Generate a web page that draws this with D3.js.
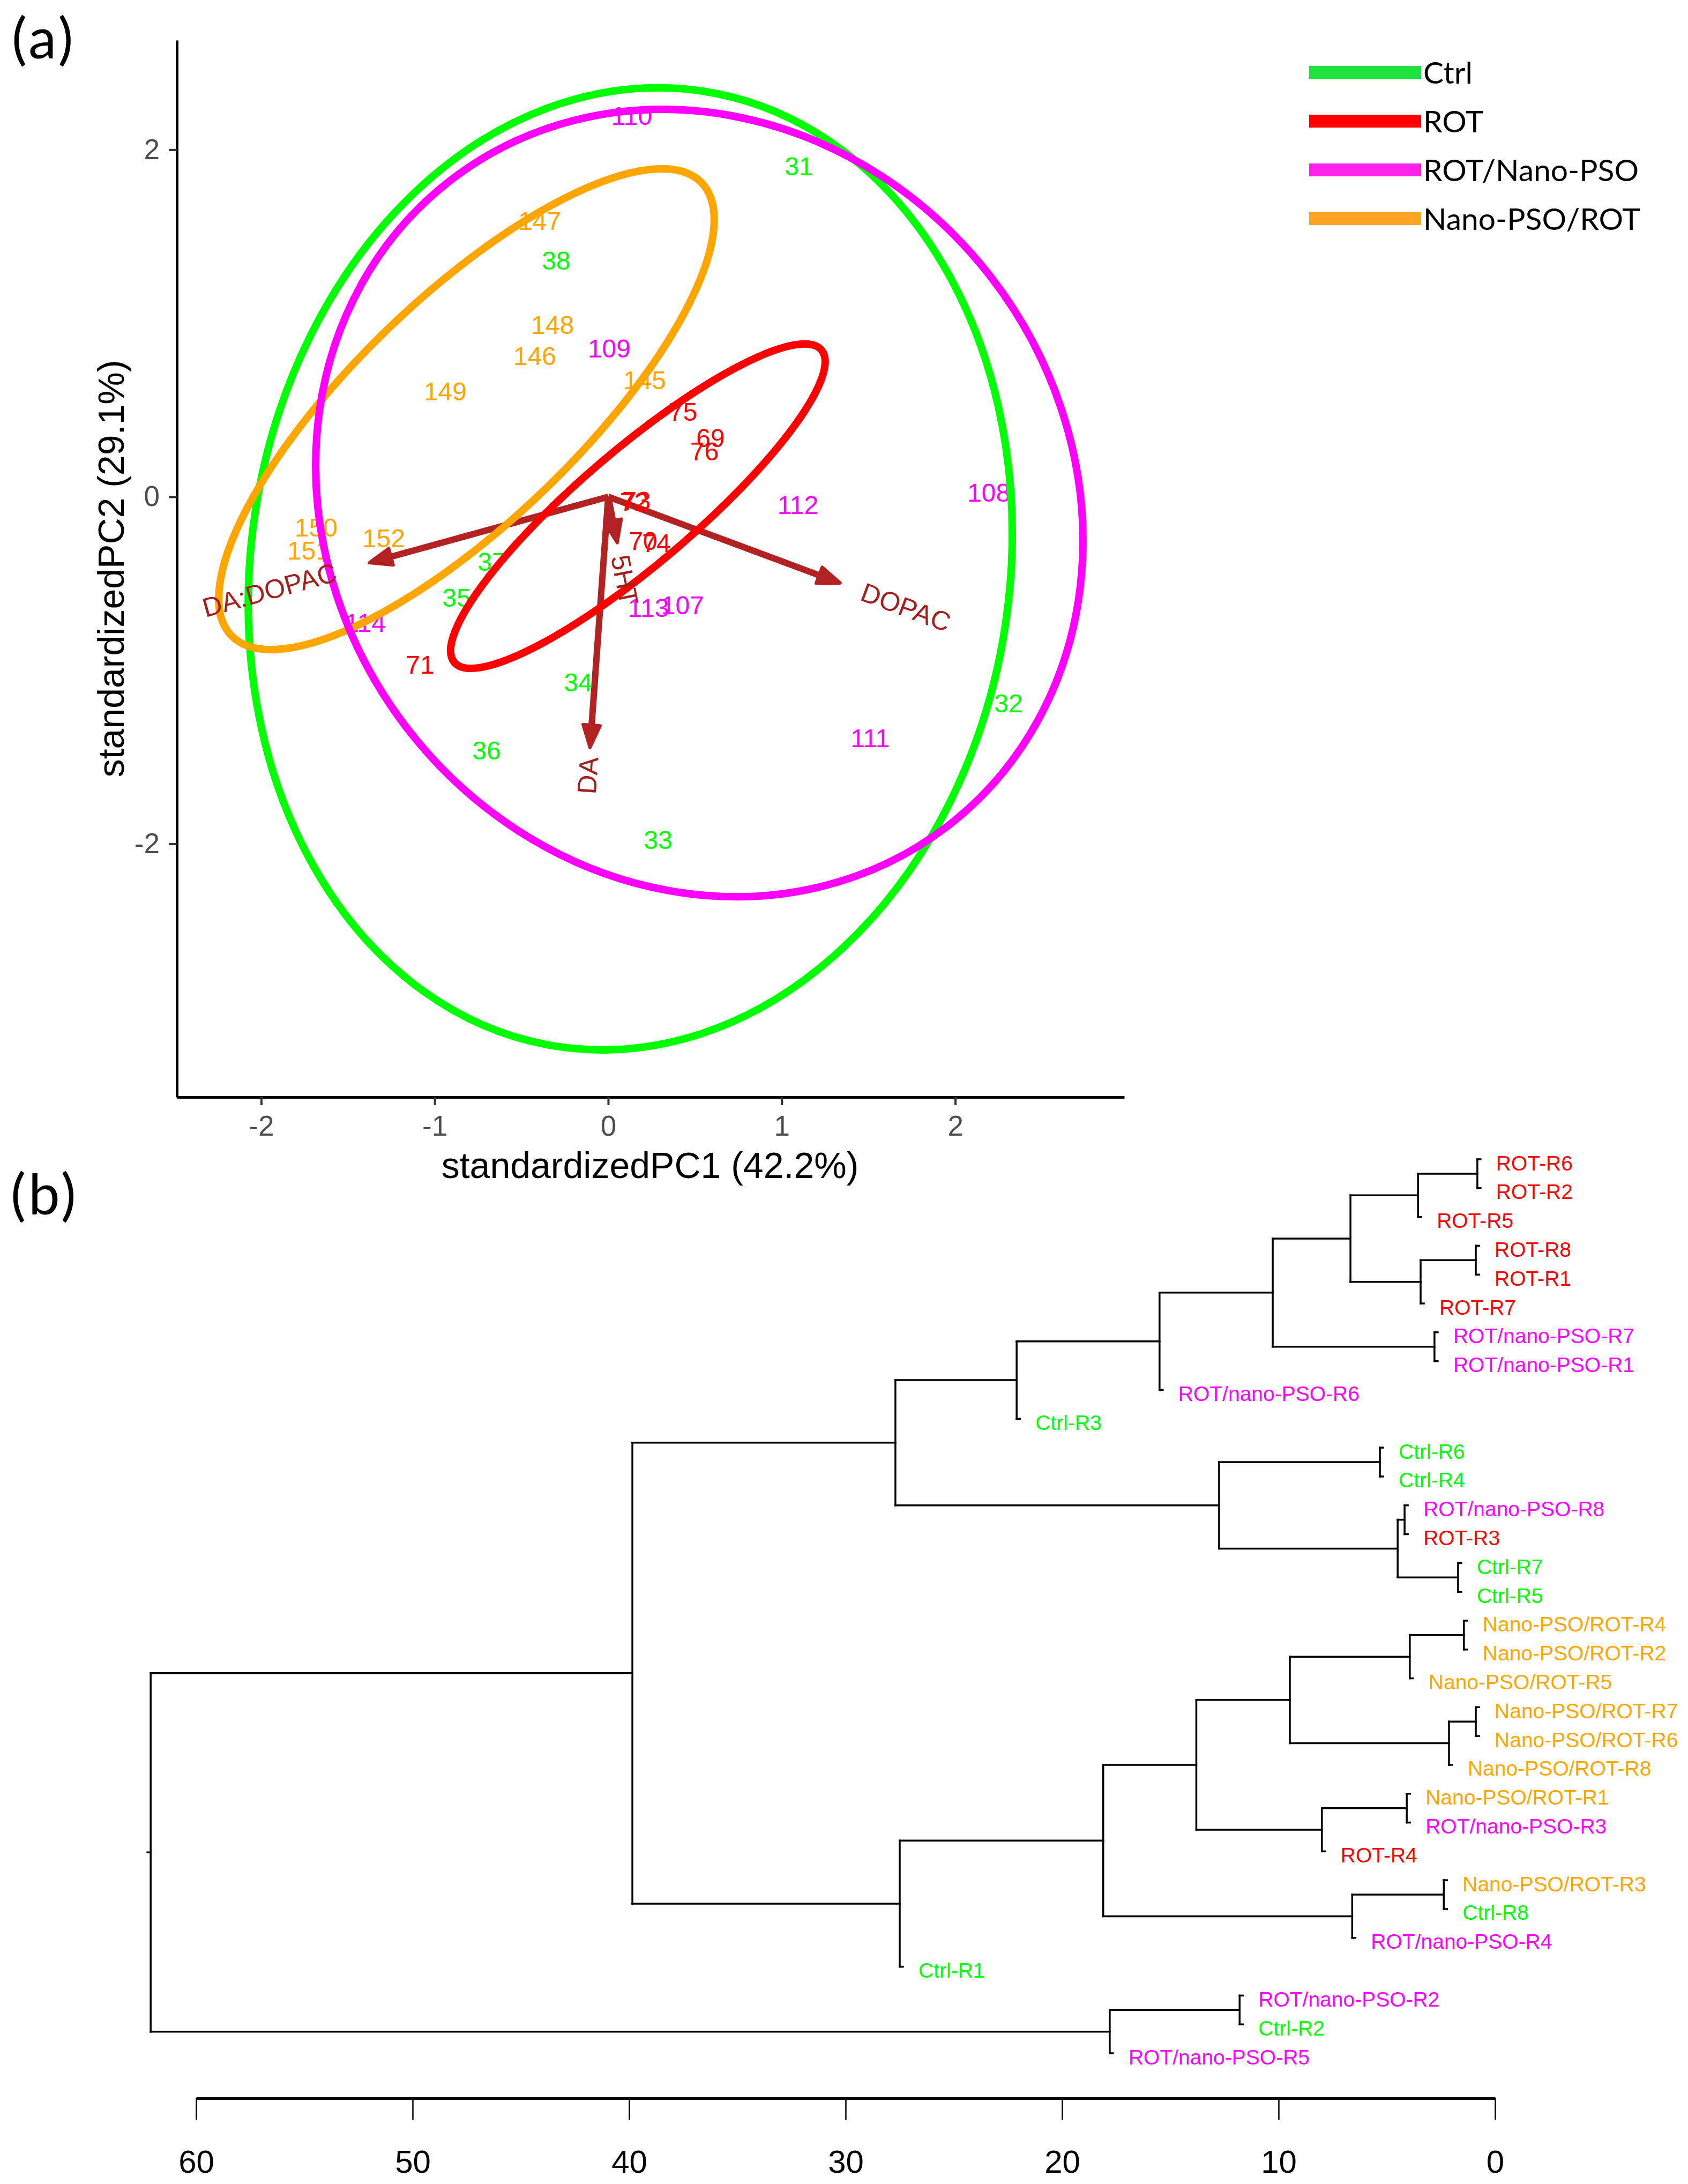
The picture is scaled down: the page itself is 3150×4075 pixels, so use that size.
<!DOCTYPE html>
<html>
<head>
<meta charset="utf-8">
<script src="https://cdn.jsdelivr.net/npm/d3@7"></script>
<style>
body{margin:0;background:#fff}
svg{display:block}
</style>
</head>
<body>
<svg id="fig" width="3150" height="4075"></svg>
<script>
// ---------- data: PCA biplot ----------
const groups = ["Ctrl", "ROT", "ROT/Nano-PSO", "Nano-PSO/ROT"]
const groupColors = ["#00ff00", "#ff0000", "#ff00ff", "#ffa500"]
const legendColors = ["#1fe23e", "#fe0000", "#ff20ea", "#ffa325"]

const obsLabels = ["31","32","33","34","35","36","37","38",
                   "69","70","71","72","73","74","75","76",
                   "107","108","109","110","111","112","113","114",
                   "145","146","147","148","149","150","151","152"]
const obsGroup = [0,0,0,0,0,0,0,0, 1,1,1,1,1,1,1,1, 2,2,2,2,2,2,2,2, 3,3,3,3,3,3,3,3]
const obsPC1 = [1.099, 2.307, 0.287, -0.173, -0.874, -0.701, -0.670, -0.300,
                0.590, 0.201, -1.084, 0.150, 0.163, 0.278, 0.432, 0.555,
                0.429, 2.193, 0.006, 0.136, 1.510, 1.093, 0.232, -1.400,
                0.210, -0.423, -0.395, -0.321, -0.939, -1.683, -1.726, -1.294]
const obsPC2 = [1.905, -1.192, -1.977, -1.069, -0.581, -1.461, -0.374, 1.359,
                0.337, -0.256, -0.967, -0.030, -0.022, -0.268, 0.488, 0.262,
                -0.627, 0.022, 0.855, 2.193, -1.390, -0.049, -0.642, -0.726,
                0.673, 0.809, 1.590, 0.991, 0.608, -0.179, -0.312, -0.241]

// normal-probability ellipses per group (centre, semi-axes, angle of major axis in degrees)
const ellCx = [0.127, 0.171, 0.525, -0.817]
const ellCy = [-0.415, -0.054, -0.036, 0.505]
const ellA = [2.784, 1.389, 2.348, 1.881]
const ellB = [2.186, 0.330, 2.126, 0.647]
const ellAngle = [81.3, 40.4, 127.5, 43.9]
const ellDrawOrder = [0, 3, 1, 2]

const varNames = ["DA:DOPAC", "DOPAC", "DA", "5HT"]
const varPC1 = [-1.377, 1.337, -0.105, 0.052]
const varPC2 = [-0.380, -0.497, -1.445, -0.265]

const pc1Ticks = [-2, -1, 0, 1, 2]
const pc2Ticks = [-2, 0, 2]

// ---------- data: dendrogram ----------
const leafNames = ["ROT-R6","ROT-R2","ROT-R5","ROT-R8","ROT-R1","ROT-R7",
  "ROT/nano-PSO-R7","ROT/nano-PSO-R1","ROT/nano-PSO-R6","Ctrl-R3",
  "Ctrl-R6","Ctrl-R4","ROT/nano-PSO-R8","ROT-R3","Ctrl-R7","Ctrl-R5",
  "Nano-PSO/ROT-R4","Nano-PSO/ROT-R2","Nano-PSO/ROT-R5","Nano-PSO/ROT-R7",
  "Nano-PSO/ROT-R6","Nano-PSO/ROT-R8","Nano-PSO/ROT-R1","ROT/nano-PSO-R3",
  "ROT-R4","Nano-PSO/ROT-R3","Ctrl-R8","ROT/nano-PSO-R4","Ctrl-R1",
  "ROT/nano-PSO-R2","Ctrl-R2","ROT/nano-PSO-R5"]
const leafGroup = [1,1,1,1,1,1, 2,2,2,0, 0,0,2,1,0,0, 3,3,3,3, 3,3,3,2, 1,3,0,2,0, 2,0,2]

// merges like R hclust: negative = leaf (-(index+1)), positive = earlier merge number
const mergeLeft  = [-1, 1, -4, 3, 2, -7, 5, 7, 8, -11, -13, -15, 11, 10, 9, -17, 16, -20, 18, 17, -23, 21, 20, -26, 24, 23, 26, 15, -30, 29, 28]
const mergeRight = [-2, -3, -5, -6, 4, -8, 6, -9, -10, -12, -14, -16, 12, 13, 14, -18, -19, -21, -22, 19, -24, -25, 22, -27, -28, 25, -29, 27, -31, -32, 30]
const mergeHeight = [0.82, 3.56, 0.89, 3.44, 6.68, 2.80, 10.27, 15.5, 22.1, 5.32, 4.18, 1.71, 4.5, 12.75, 27.7,
                     1.44, 3.94, 0.89, 2.13, 9.48, 4.08, 8.0, 13.8, 2.37, 6.6, 18.1, 27.5, 39.85, 11.8, 17.8, 62.1]

const distTicks = [60, 50, 40, 30, 20, 10, 0]

// ---------- drawing ----------
const svg = d3.select("#fig")
const arial = "'Liberation Sans', Arial, sans-serif"
const calibri = "Lato, 'Open Sans', sans-serif"

// panel letters
svg.append("text").attr("x", 22).attr("y", 109).text("(a)")
  .style("font-family", calibri).style("font-size", "105px").style("letter-spacing", "5px")
svg.append("text").attr("x", 20).attr("y", 2266).text("(b)")
  .style("font-family", calibri).style("font-size", "105px").style("letter-spacing", "5px")

// ===== (a) PCA biplot =====
const x = d3.scaleLinear().domain([-2.486, 2.974]).range([330, 2098])
const y = d3.scaleLinear().domain([-3.459, 2.631]).range([2047, 75])

const gx = svg.append("g").attr("transform", "translate(0,2047)")
  .call(d3.axisBottom(x).tickValues(pc1Ticks).tickSize(15).tickSizeOuter(0).tickPadding(19))
const gy = svg.append("g").attr("transform", "translate(330,0)")
  .call(d3.axisLeft(y).tickValues(pc2Ticks).tickSize(15).tickSizeOuter(0).tickPadding(17))
for (const g of [gx, gy]) {
  g.select(".domain").attr("stroke", "#000").attr("stroke-width", 5)
  g.selectAll(".tick line").attr("stroke", "#333").attr("stroke-width", 4)
  g.selectAll(".tick text").attr("fill", "#4d4d4d")
    .style("font-family", arial).style("font-size", "53px")
    .text(d => String(d))   // plain hyphen like the original
}

svg.append("text").attr("x", 1213).attr("y", 2198).attr("text-anchor", "middle")
  .text("standardizedPC1 (42.2%)").style("font-family", arial).style("font-size", "68px")
svg.append("text").attr("transform", "translate(207,1061) rotate(-90)")
  .attr("text-anchor", "middle").attr("dominant-baseline", "central")
  .text("standardizedPC2 (29.1%)").style("font-family", arial).style("font-size", "68px")

// loadings arrows
const arrowCol = "#b22222"
const ga = svg.append("g")
varNames.forEach((v, i) => {
  const x0 = x(0), y0 = y(0), x1 = x(varPC1[i]), y1 = y(varPC2[i])
  const ang = Math.atan2(y1 - y0, x1 - x0)
  const L = 42, H = 16
  const bx = x1 - L * Math.cos(ang), by = y1 - L * Math.sin(ang)
  ga.append("line").attr("x1", x0).attr("y1", y0).attr("x2", bx + 6 * Math.cos(ang)).attr("y2", by + 6 * Math.sin(ang))
    .attr("stroke", arrowCol).attr("stroke-width", 12)
  const pts = [[x1, y1],
    [bx - H * Math.sin(ang), by + H * Math.cos(ang)],
    [bx + H * Math.sin(ang), by - H * Math.cos(ang)]]
  ga.append("path").attr("d", "M" + pts.map(p => p.join(",")).join("L") + "Z")
    .attr("fill", arrowCol).attr("stroke", arrowCol).attr("stroke-width", 6).attr("stroke-linejoin", "round")
})

// observation labels
svg.append("g").selectAll("text").data(obsLabels).enter().append("text")
  .attr("x", (d, i) => x(obsPC1[i]))
  .attr("y", (d, i) => y(obsPC2[i]))
  .attr("text-anchor", "middle").attr("dominant-baseline", "central")
  .attr("fill", (d, i) => groupColors[obsGroup[i]])
  .style("font-family", arial).style("font-size", "48px")
  .text(d => d)

// group ellipses
svg.append("g").selectAll("ellipse").data(ellDrawOrder).enter().append("ellipse")
  .attr("cx", k => x(ellCx[k])).attr("cy", k => y(ellCy[k]))
  .attr("rx", k => x(ellA[k]) - x(0)).attr("ry", k => y(0) - y(ellB[k]))
  .attr("transform", k => "rotate(" + (-ellAngle[k]) + "," + x(ellCx[k]) + "," + y(ellCy[k]) + ")")
  .attr("fill", "none").attr("stroke", k => groupColors[k]).attr("stroke-width", 14)

// variable names (ggbiplot style: rotated along arrow, hjust by sign of x)
const gv = svg.append("g")
varNames.forEach((v, i) => {
  const angle = Math.atan(varPC2[i] / varPC1[i]) * 180 / Math.PI
  const t = gv.append("text")
    .attr("transform", "translate(" + x(varPC1[i]) + "," + y(varPC2[i]) + ") rotate(" + (-angle) + ")")
    .attr("dominant-baseline", "central")
    .attr("text-anchor", varPC1[i] > 0 ? "start" : "end")
    .attr("fill", "#a3201f")
    .style("font-family", arial).style("font-size", "50px")
    .text(v)
  const w = t.node().getComputedTextLength()
  t.attr("dx", (varPC1[i] > 0 ? 1 : -1) * 0.25 * w)
})

// legend
const lg = svg.append("g")
groups.forEach((g, i) => {
  const ly = 135 + i * 91
  lg.append("line").attr("x1", 2443).attr("x2", 2652).attr("y1", ly).attr("y2", ly)
    .attr("stroke", legendColors[i]).attr("stroke-width", 24)
  lg.append("text").attr("x", 2656).attr("y", ly + 21).text(g)
    .style("font-family", calibri).style("font-size", "57px")
})

// ===== (b) dendrogram =====
const xd = d3.scaleLinear().domain([60, 0]).range([366, 2790])
const yd = d3.scaleLinear().domain([0, leafNames.length - 1]).range([2163, 3831])

const nodeY = []
function posOf(c) { return c < 0 ? -c - 1 : nodeY[c - 1] }
mergeHeight.forEach((h, k) => {
  nodeY.push((posOf(mergeLeft[k]) + posOf(mergeRight[k])) / 2)
})

const segs = []
const leafParentH = []
mergeHeight.forEach((h, k) => {
  const cs = [mergeLeft[k], mergeRight[k]]
  segs.push([xd(h), yd(posOf(cs[0])), xd(h), yd(posOf(cs[1]))])
  cs.forEach(c => {
    if (c > 0) {
      segs.push([xd(h), yd(posOf(c)), xd(mergeHeight[c - 1]), yd(posOf(c))])
    } else {
      leafParentH[-c - 1] = h
      segs.push([xd(h), yd(-c - 1), xd(h) + 6, yd(-c - 1)])
    }
  })
})
const rootK = mergeHeight.length - 1
segs.push([xd(mergeHeight[rootK]) - 6, yd(nodeY[rootK]), xd(mergeHeight[rootK]), yd(nodeY[rootK])])

svg.append("g").selectAll("line").data(segs).enter().append("line")
  .attr("x1", d => d[0]).attr("y1", d => d[1]).attr("x2", d => d[2]).attr("y2", d => d[3])
  .attr("stroke", "#000").attr("stroke-width", 3.5).attr("stroke-linecap", "square")

svg.append("g").selectAll("text").data(leafNames).enter().append("text")
  .attr("x", (d, i) => xd(leafParentH[i]) + 35)
  .attr("y", (d, i) => yd(i) + 7)
  .attr("dominant-baseline", "central")
  .attr("fill", (d, i) => groupColors[leafGroup[i]])
  .style("font-family", arial).style("font-size", "39px")
  .text(d => d)

const gd = svg.append("g").attr("transform", "translate(0,3915)")
  .call(d3.axisBottom(xd).tickValues(distTicks).tickSize(40).tickSizeOuter(0).tickPadding(56))
gd.select(".domain").attr("stroke", "#000").attr("stroke-width", 5)
gd.selectAll(".tick line").attr("stroke", "#000").attr("stroke-width", 2.5)
gd.selectAll(".tick text").attr("fill", "#000").style("font-family", arial).style("font-size", "60px")
</script>
</body>
</html>
